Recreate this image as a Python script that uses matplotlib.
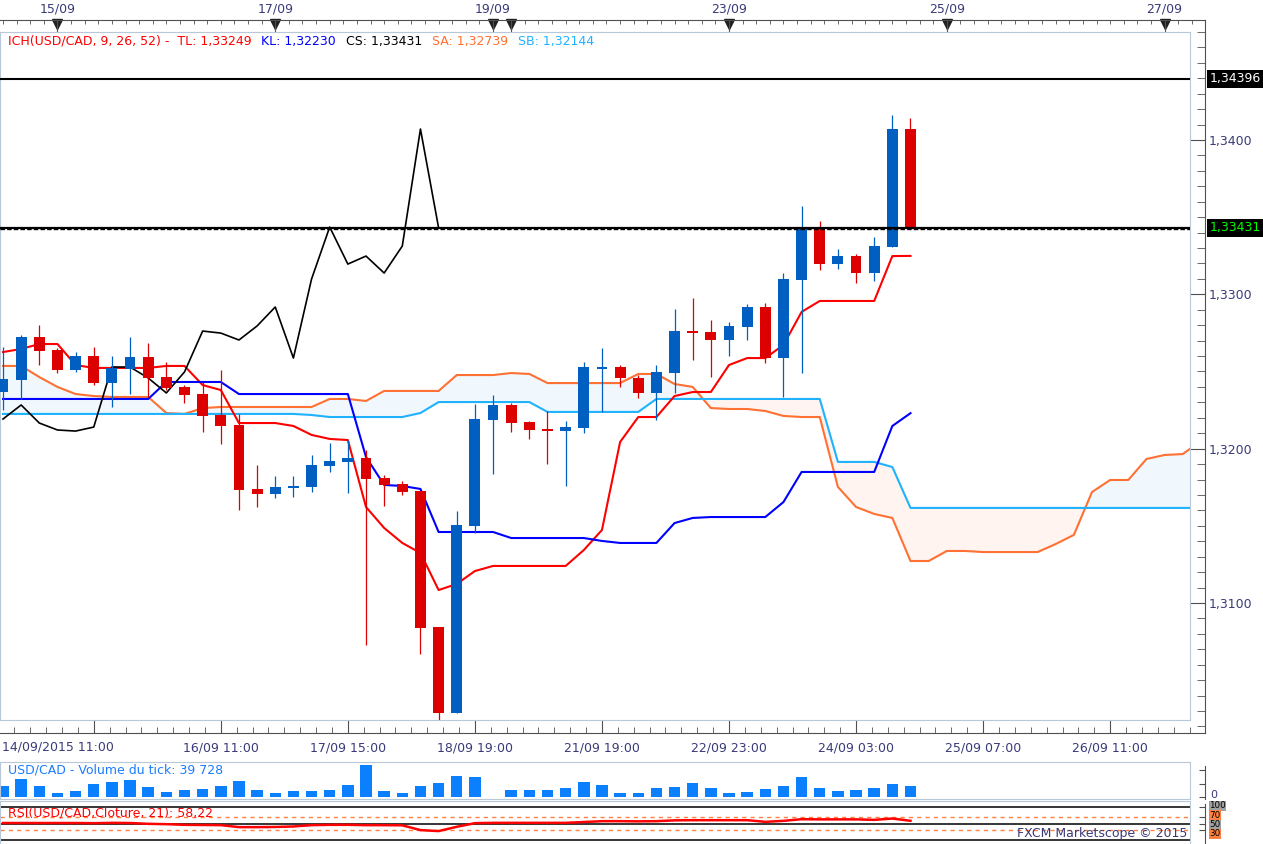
import numpy as np
import matplotlib
matplotlib.use("Agg")
import matplotlib.pyplot as plt
import matplotlib.transforms as mtrans
from matplotlib.ticker import MultipleLocator, FixedLocator, FuncFormatter

W, H = 1263, 844

# ---- 4h candles USD/CAD ----
opens = np.array([1.32367, 1.32445, 1.32723, 1.32639, 1.32510, 1.32600, 1.32425, 1.32516, 1.32594, 1.32464,
                  1.32399, 1.32354, 1.32218, 1.32153, 1.31738, 1.31706, 1.31745, 1.31751, 1.31888, 1.31913,
                  1.31939, 1.31810, 1.31771, 1.31726, 1.30844, 1.30287, 1.31499, 1.32186, 1.32283, 1.32173,
                  1.32127, 1.32114, 1.32134, 1.32516, 1.32529, 1.32458, 1.32361, 1.32490, 1.32762, 1.32756,
                  1.32704, 1.32788, 1.32918, 1.32587, 1.33093, 1.33436, 1.33196, 1.33248, 1.33138, 1.33307,
                  1.34071])
highs = np.array([1.32659, 1.32736, 1.32801, 1.32652, 1.32626, 1.32659, 1.32600, 1.32723, 1.32685, 1.32561,
                  1.32410, 1.32432, 1.32510, 1.32224, 1.31894, 1.31823, 1.31823, 1.31959, 1.32037, 1.32056,
                  1.31991, 1.31829, 1.31790, 1.31726, 1.30844, 1.31596, 1.32289, 1.32348, 1.32296, 1.32179,
                  1.32244, 1.32179, 1.32561, 1.32652, 1.32542, 1.32477, 1.32542, 1.32905, 1.32976, 1.32834,
                  1.32821, 1.32937, 1.32944, 1.33138, 1.33572, 1.33475, 1.33294, 1.33261, 1.33371, 1.34162,
                  1.34143])
lows = np.array([1.32250, 1.32322, 1.32542, 1.32490, 1.32497, 1.32412, 1.32270, 1.32354, 1.32335, 1.32380,
                 1.32296, 1.32108, 1.32030, 1.31602, 1.31622, 1.31680, 1.31687, 1.31719, 1.31849, 1.31713,
                 1.30728, 1.31628, 1.31700, 1.30669, 1.30242, 1.30287, 1.31453, 1.31836, 1.32108, 1.32062,
                 1.31900, 1.31758, 1.32101, 1.32237, 1.32399, 1.32328, 1.32186, 1.32361, 1.32574, 1.32464,
                 1.32600, 1.32704, 1.32555, 1.32335, 1.32490, 1.33158, 1.33164, 1.33073, 1.33086, 1.33307,
                 1.33431])
closes = np.array([1.32451, 1.32723, 1.32633, 1.32510, 1.32600, 1.32425, 1.32523, 1.32594, 1.32458, 1.32393,
                   1.32348, 1.32212, 1.32147, 1.31732, 1.31706, 1.31751, 1.31758, 1.31894, 1.31920, 1.31939,
                   1.31803, 1.31764, 1.31719, 1.30838, 1.30287, 1.31505, 1.32192, 1.32283, 1.32166, 1.32121,
                   1.32114, 1.32140, 1.32529, 1.32529, 1.32458, 1.32361, 1.32497, 1.32762, 1.32749, 1.32704,
                   1.32795, 1.32918, 1.32587, 1.33099, 1.33436, 1.33196, 1.33248, 1.33138, 1.33313, 1.34071,
                   1.33431])

# Ichimoku (9, 26, 52)
tenkan = [1.32626, 1.32646, 1.32678, 1.32678, 1.32542, 1.32523, 1.32523, 1.32523, 1.32523, 1.32536,
          1.32536, 1.32412, 1.32380, 1.32166, 1.32166, 1.32166, 1.32147, 1.32089, 1.32063, 1.32056,
          1.31622, 1.31486, 1.31389, 1.31324, 1.31084, 1.31123, 1.31207, 1.31240, 1.31240, 1.31240,
          1.31240, 1.31240, 1.31343, 1.31473, 1.32043, 1.32205, 1.32205, 1.32341, 1.32367, 1.32367,
          1.32542, 1.32587, 1.32587, 1.32672, 1.32886, 1.32957, 1.32957, 1.32957, 1.32957, 1.33248,
          1.33249]
kijun = ([1.32322] * 9 + [1.32432] * 4 + [1.32354] * 7 + [1.31946, 1.31765, 1.31758, 1.31739]
         + [1.31460] * 4 + [1.31421] * 5 + [1.31402] + [1.31389] * 3 + [1.31518, 1.31551]
         + [1.31557] * 4 + [1.31654] + [1.31849] * 5 + [1.32147, 1.32230])
senkou_a = np.array([1.32536, 1.32536, 1.32464, 1.32400, 1.32354, 1.32341, 1.32335, 1.32335, 1.32335, 1.32231,
                     1.32225, 1.32263, 1.32270, 1.32270, 1.32270, 1.32270, 1.32270, 1.32270, 1.32322, 1.32322,
                     1.32309, 1.32374, 1.32374, 1.32374, 1.32374, 1.32477, 1.32477, 1.32477, 1.32490, 1.32484,
                     1.32425, 1.32425, 1.32425, 1.32425, 1.32425, 1.32484, 1.32484, 1.32419, 1.32400, 1.32263,
                     1.32257, 1.32257, 1.32244, 1.32212, 1.32205, 1.32205, 1.31752, 1.31622, 1.31577, 1.31551,
                     1.31272, 1.31272, 1.31337, 1.31337, 1.31330, 1.31330, 1.31330, 1.31330, 1.31382, 1.31441,
                     1.31719, 1.31797, 1.31797, 1.31933, 1.31959, 1.31965, 1.32050])
senkou_b = np.array([1.32225] * 17 + [1.32218] + [1.32205] * 5 + [1.32231] + [1.32302] * 6
                    + [1.32238] * 6 + [1.32322] * 10 + [1.31914] * 3 + [1.31881] + [1.31616] * 17)
level_line = 1.34396

volume = [39700, 68200, 39700, 14900, 21100, 48400, 54600, 62000, 36000, 17400,
          24800, 28500, 39700, 58300, 24800, 13600, 21100, 21100, 24800, 43400,
          117800, 21100, 13600, 39700, 50800, 76900, 73200, 1200, 24800, 24800,
          24800, 32200, 54600, 43400, 13600, 13600, 32200, 36000, 50800, 32200,
          13600, 17400, 28500, 39700, 73200, 32200, 21100, 24800, 32200, 47100,
          39728]
rsi = [51.5, 51.5, 51.5, 51.5, 51.5, 51, 52, 51.5, 49, 48,
       46, 45.5, 45, 39, 39, 39.5, 41, 45, 46, 46,
       45, 45, 44.5, 30, 27, 40, 51, 52, 52, 52,
       52, 52, 54.5, 57, 57, 56.5, 57, 59.5, 60, 60,
       60, 60, 55, 58, 63, 62.5, 62.5, 62.5, 61, 65,
       58.22]
rsi_levels = [100, 70, 50, 30]

bottom_ticks = [5, 12, 19, 26, 33, 40, 47, 54, 61]
bottom_labels = ["", "16/09 11:00", "17/09 15:00", "18/09 19:00", "21/09 19:00",
                 "22/09 23:00", "24/09 03:00", "25/09 07:00", "26/09 11:00"]
day_ticks = [3, 15, 27, 40, 52, 64]
day_labels = ["15/09", "17/09", "19/09", "23/09", "25/09", "27/09"]
day_marks = [3, 15, 27, 28, 40, 52, 64]

# ---- colours ----
UP, DOWN = "#005fc0", "#dc0000"
SA_C, SB_C = "#ff7033", "#1fb2ff"
TXT = "#3a3a7a"
AXC = "#505050"
BORDER = "#b8c8d8"

# ---- pixel layout helpers ----
BAR0, BARW = 3.0, 18.15
PRICE0, PIX0, PPU = 1.34, 140.0, 15433.0


def bx(px):
    return (px - BAR0) / BARW


def pr(py):
    return PRICE0 - (py - PIX0) / PPU


def box(x0, y0, x1, y1):
    return [x0 / W, 1 - y1 / H, (x1 - x0) / W, (y1 - y0) / H]


fig = plt.figure(figsize=(W / 100, H / 100), dpi=100)
fig.patch.set_facecolor("white")

# outer frame carrying the time / price axes
frame = fig.add_axes(box(0, 20, 1205, 733), zorder=0)
frame.set_facecolor("none")
frame.set_xlim(bx(0), bx(1205))
frame.set_ylim(pr(733), pr(20))
frame.spines["left"].set_visible(False)
for s in ["top", "right", "bottom"]:
    frame.spines[s].set_color(AXC)
frame.yaxis.tick_right()
frame.yaxis.set_major_locator(MultipleLocator(0.01))
frame.yaxis.set_minor_locator(MultipleLocator(0.001))
frame.yaxis.set_major_formatter(FuncFormatter(lambda v, _: f"{v:.4f}".replace(".", ",")))
frame.tick_params(axis="y", which="major", direction="in", length=10.8, color=AXC,
                  labelsize=9, labelcolor=TXT, pad=3)
frame.tick_params(axis="y", which="minor", direction="in", length=5.5, color=AXC)
frame.xaxis.set_major_locator(FixedLocator(bottom_ticks))
frame.set_xticklabels(bottom_labels)
frame.xaxis.set_minor_locator(FixedLocator(np.arange(-2, 66, 7 / 8)))
frame.tick_params(axis="x", which="major", direction="in", length=9.4, color=AXC,
                  labelsize=9, labelcolor=TXT, pad=6)
frame.tick_params(axis="x", which="minor", direction="in", length=4, color=AXC)
fig.text(2 / W, 1 - 741 / H, "14/09/2015 11:00", fontsize=9, color=TXT, va="top", ha="left")

top = frame.twiny()
top.set_xlim(frame.get_xlim())
for s in top.spines.values():
    s.set_visible(False)
top.xaxis.set_major_locator(FixedLocator(day_ticks))
top.set_xticklabels(day_labels)
top.xaxis.set_minor_locator(FixedLocator(np.concatenate([np.arange(0, 27.01, 0.75),
                                                         np.arange(28, 66, 0.75)])))
top.tick_params(axis="x", which="major", length=0, labelsize=9, labelcolor=TXT, pad=3)
top.tick_params(axis="x", which="minor", direction="in", length=3, color=AXC)
tri_tr = mtrans.offset_copy(frame.get_xaxis_transform(), fig=fig, y=-4, units="dots")
frame.plot(day_marks, np.ones(len(day_marks)), "v", color="#202020", ms=6.5,
           transform=tri_tr, clip_on=False)
frame.vlines(day_marks, 1 - 12 / 713, 1, transform=frame.get_xaxis_transform(),
             color=AXC, lw=0.8)

# right-hand price boxes
ytr = frame.get_yaxis_transform()
frame.text(1.004, level_line, "1,34396", transform=ytr, color="white", fontsize=9,
           va="center", ha="left", bbox=dict(boxstyle="square,pad=0.2", fc="black", ec="none"))
frame.text(1.004, closes[-1], "1,33431", transform=ytr, color="#00ff00", fontsize=9,
           va="center", ha="left", bbox=dict(boxstyle="square,pad=0.2", fc="black", ec="none"))

# ---- main price panel ----
ax = fig.add_axes(box(0, 32, 1190, 720), zorder=1)
ax.set_xlim(bx(0), bx(1190))
ax.set_ylim(pr(720), pr(32))
ax.set_xticks([])
ax.set_yticks([])
for s in ax.spines.values():
    s.set_color(BORDER)

cb = np.arange(len(senkou_a))
ax.fill_between(cb, senkou_a, senkou_b, where=senkou_a >= senkou_b, interpolate=True,
                color="#f0f8fd", lw=0, zorder=1)
ax.fill_between(cb, senkou_a, senkou_b, where=senkou_a < senkou_b, interpolate=True,
                color="#fff4f0", lw=0, zorder=1)
ax.plot(cb, senkou_a, color=SA_C, lw=1.5, zorder=2)
ax.plot(cb, senkou_b, color=SB_C, lw=1.5, zorder=2)

bars = np.arange(len(closes))
ax.plot(bars, tenkan, color="#ff0000", lw=1.5, zorder=3)
ax.plot(bars, kijun, color="#0000ff", lw=1.5, zorder=3)
ax.plot(bars[:len(closes) - 26], closes[26:], color="black", lw=1.2, zorder=3)

cols = np.where(closes >= opens, UP, DOWN)
ax.vlines(bars, lows, highs, colors=cols, lw=0.9, zorder=4)
ax.bar(bars, closes - opens, bottom=opens, width=0.6, color=cols, lw=0, zorder=5)

ax.axhline(level_line, color="black", lw=1.5, zorder=6)
# current close: solid black line with a dotted black/white row underneath
ax.axhline(closes[-1], color="black", lw=1.6, zorder=6)
off = mtrans.offset_copy(ax.transData, fig=fig, y=-1.5, units="dots")
ax.plot(ax.get_xlim(), [closes[-1]] * 2, color="black", lw=1.0, ls=(0, (3.2, 1.6)),
        transform=off, zorder=6)

legend = [(8, "ICH(USD/CAD, 9, 26, 52) -  TL: 1,33249", "#ff0000"),
          (261, "KL: 1,32230", "#0000ff"),
          (346, "CS: 1,33431", "black"),
          (432, "SA: 1,32739", SA_C),
          (518, "SB: 1,32144", SB_C)]
for x, s, c in legend:
    fig.text(x / W, 1 - 41 / H, s, color=c, fontsize=9, va="center", ha="left", zorder=10)

# ---- tick volume panel ----
VS = 3720.0
av = fig.add_axes(box(0, 762, 1190, 799), zorder=1)
av.set_xlim(bx(0), bx(1190))
av.set_ylim(-(799 - 797) * VS, (797 - 762) * VS)
av.set_xticks([])
av.set_yticks([])
for s in av.spines.values():
    s.set_color(BORDER)
av.bar(bars, volume, width=0.63, color="#0a80ff", lw=0)
av.text(8 / 1190, 1 - 8 / 37, "USD/CAD - Volume du tick: 39 728", transform=av.transAxes,
        color="#1a7cff", fontsize=9, va="center", ha="left")

fv = fig.add_axes(box(0, 766, 1205, 799), zorder=0)
fv.set_facecolor("none")
fv.set_xlim(0, 1)
fv.set_ylim(-(799 - 797) * VS, (797 - 766) * VS)
for s in ["left", "top", "bottom"]:
    fv.spines[s].set_visible(False)
fv.spines["right"].set_color(AXC)
fv.set_xticks([])
fv.yaxis.tick_right()
fv.set_yticks([0, 50000, 100000])
fv.set_yticklabels([])
fv.tick_params(axis="y", direction="in", length=4, color=AXC)
fig.text(1210 / W, 1 - 795 / H, "0", fontsize=8, color=TXT, va="center", ha="left")

# ---- RSI panel ----
RS = 0.33
ar = fig.add_axes(box(0, 801, 1190, 844), zorder=1)
ar.set_xlim(bx(0), bx(1190))
ar.set_ylim((840 - 844) / RS, (840 - 801) / RS)
ar.set_xticks([])
ar.set_yticks([])
for s in ar.spines.values():
    s.set_color(BORDER)
for lv in [100, 50, 0]:
    ar.axhline(lv, color="black", lw=1.1)
for lv in [70, 30]:
    ar.axhline(lv, color="#ff8040", lw=1.0, ls=(0, (3, 3)))
ar.plot(bars, rsi, color="#ff0000", lw=1.8)
ar.text(8 / 1190, (840 - 813) / RS, "RSI(USD/CAD,Cloture, 21): 58,22", color="#ff0000",
        fontsize=9, va="center", ha="left", transform=ar.get_yaxis_transform())
ar.text(0.998, (840 - 834) / RS, "FXCM Marketscope \u00a9 2015", color=TXT, fontsize=9,
        va="center", ha="right", transform=ar.get_yaxis_transform())

fr = fig.add_axes(box(0, 804, 1205, 844), zorder=0)
fr.set_facecolor("none")
fr.set_xlim(0, 1)
fr.set_ylim((840 - 844) / RS, (840 - 804) / RS)
for s in ["left", "top", "bottom"]:
    fr.spines[s].set_visible(False)
fr.spines["right"].set_color(AXC)
fr.set_xticks([])
fr.yaxis.tick_right()
fr.set_yticks(rsi_levels)
fr.set_yticklabels([])
fr.tick_params(axis="y", direction="in", length=4, color=AXC)
# stacked level labels, nudged apart so they stay readable
lab_px = [806, 815.3, 824.6, 833.9]
lab_fc = ["#a0a0a0", "#ff8040", "#a0a0a0", "#ff8040"]
for lv, ypx, fc in zip(rsi_levels, lab_px, lab_fc):
    fig.text(1209 / W, 1 - ypx / H, str(lv), fontsize=6.3, color="black", va="center",
             ha="left", bbox=dict(boxstyle="square,pad=0.05", fc=fc, ec="none"))

fig.savefig("out.png", dpi=100, facecolor="white")
